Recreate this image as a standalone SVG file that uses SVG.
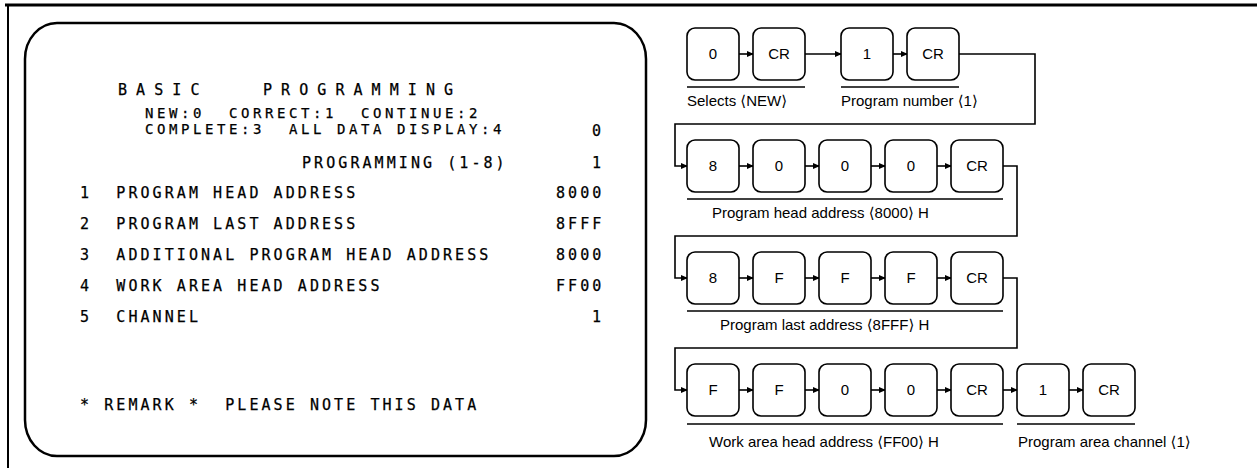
<svg xmlns="http://www.w3.org/2000/svg" width="1257" height="468" viewBox="0 0 1257 468">
<style>
.scr{font-family:"DejaVu Sans Mono","Liberation Mono",monospace;font-size:15px;letter-spacing:3.07px;fill:#000;stroke:#000;stroke-width:0.25;white-space:pre}
.sm{font-size:14px;letter-spacing:3.57px}
.box{fill:#fff;stroke:#000;stroke-width:1.6}
.k{font-family:"Liberation Sans","DejaVu Sans",sans-serif;font-size:15px;fill:#000;text-anchor:middle}
.lbl{font-family:"Liberation Sans","DejaVu Sans",sans-serif;font-size:15px;fill:#000}
.ln{fill:none;stroke:#000;stroke-width:1.6}
.ul{stroke:#000;stroke-width:1.4}
</style>
<defs>
<marker id="ah" markerWidth="7" markerHeight="7" refX="6" refY="3.5" orient="auto" markerUnits="userSpaceOnUse">
<path d="M0,0.5 L7,3.5 L0,6.5 Z" fill="#000"/>
</marker>
</defs>
<rect width="1257" height="468" fill="#fff"/>
<g id="frame">
<line x1="5" y1="5" x2="1257" y2="5" stroke="#000" stroke-width="3"/>
<line x1="8" y1="5" x2="8" y2="468" stroke="#000" stroke-width="2"/>
</g>
<g id="screen">
<rect x="25" y="23" width="621" height="433" rx="32" ry="36" fill="none" stroke="#000" stroke-width="2.5"/>
<text class="scr" x="118" y="95" style="letter-spacing:9.07px">BASIC</text>
<text class="scr" x="263" y="95" style="letter-spacing:9.07px">PROGRAMMING</text>
<text class="scr sm" x="145" y="118">NEW:0  CORRECT:1  CONTINUE:2</text>
<text class="scr sm" x="145" y="134">COMPLETE:3  ALL DATA DISPLAY:4</text>
<text class="scr" x="592" y="136">0</text>
<text class="scr" x="302" y="168">PROGRAMMING (1-8)</text>
<text class="scr" x="592" y="168">1</text>
<text class="scr" x="80" y="198">1  PROGRAM HEAD ADDRESS</text>
<text class="scr" x="556" y="198">8000</text>
<text class="scr" x="80" y="229">2  PROGRAM LAST ADDRESS</text>
<text class="scr" x="556" y="229">8FFF</text>
<text class="scr" x="80" y="260">3  ADDITIONAL PROGRAM HEAD ADDRESS</text>
<text class="scr" x="556" y="260">8000</text>
<text class="scr" x="80" y="291">4  WORK AREA HEAD ADDRESS</text>
<text class="scr" x="556" y="291">FF00</text>
<text class="scr" x="80" y="322">5  CHANNEL</text>
<text class="scr" x="592" y="322">1</text>
<text class="scr" x="80" y="410">* REMARK *  PLEASE NOTE THIS DATA</text>
</g>
<g id="connectors">
<line class="ln" x1="739" y1="54" x2="753" y2="54" marker-end="url(#ah)"/>
<line class="ln" x1="805" y1="54" x2="841" y2="54" marker-end="url(#ah)"/>
<line class="ln" x1="893" y1="54" x2="907" y2="54" marker-end="url(#ah)"/>
<polyline class="ln" points="959,54 1035,54 1035,124 675,124 675,166 687,166" marker-end="url(#ah)"/>
<line class="ln" x1="739" y1="166" x2="753" y2="166" marker-end="url(#ah)"/>
<line class="ln" x1="805" y1="166" x2="819" y2="166" marker-end="url(#ah)"/>
<line class="ln" x1="871" y1="166" x2="885" y2="166" marker-end="url(#ah)"/>
<line class="ln" x1="937" y1="166" x2="951" y2="166" marker-end="url(#ah)"/>
<polyline class="ln" points="1003,166 1017,166 1017,236 675,236 675,278 687,278" marker-end="url(#ah)"/>
<line class="ln" x1="739" y1="278" x2="753" y2="278" marker-end="url(#ah)"/>
<line class="ln" x1="805" y1="278" x2="819" y2="278" marker-end="url(#ah)"/>
<line class="ln" x1="871" y1="278" x2="885" y2="278" marker-end="url(#ah)"/>
<line class="ln" x1="937" y1="278" x2="951" y2="278" marker-end="url(#ah)"/>
<polyline class="ln" points="1003,278 1017,278 1017,348 675,348 675,390 687,390" marker-end="url(#ah)"/>
<line class="ln" x1="739" y1="390" x2="753" y2="390" marker-end="url(#ah)"/>
<line class="ln" x1="805" y1="390" x2="819" y2="390" marker-end="url(#ah)"/>
<line class="ln" x1="871" y1="390" x2="885" y2="390" marker-end="url(#ah)"/>
<line class="ln" x1="937" y1="390" x2="951" y2="390" marker-end="url(#ah)"/>
<line class="ln" x1="1003" y1="390" x2="1017" y2="390" marker-end="url(#ah)"/>
<line class="ln" x1="1069" y1="390" x2="1083" y2="390" marker-end="url(#ah)"/>
</g>
<g id="row1">
<g id="k1a"><rect class="box" x="687" y="28" width="52" height="52" rx="8"/><text class="k" x="713" y="59">0</text></g>
<g id="k1b"><rect class="box" x="753" y="28" width="52" height="52" rx="8"/><text class="k" x="779" y="59">CR</text></g>
<g id="k1c"><rect class="box" x="841" y="28" width="52" height="52" rx="8"/><text class="k" x="867" y="59">1</text></g>
<g id="k1d"><rect class="box" x="907" y="28" width="52" height="52" rx="8"/><text class="k" x="933" y="59">CR</text></g>
<line class="ul" x1="687" y1="87" x2="805" y2="87"/>
<line class="ul" x1="841" y1="87" x2="959" y2="87"/>
<text class="lbl" x="687" y="106">Selects ⟨NEW⟩</text>
<text class="lbl" x="841" y="106">Program number ⟨1⟩</text>
</g>
<g id="row2">
<g id="k2a"><rect class="box" x="687" y="140" width="52" height="52" rx="8"/><text class="k" x="713" y="171">8</text></g>
<g id="k2b"><rect class="box" x="753" y="140" width="52" height="52" rx="8"/><text class="k" x="779" y="171">0</text></g>
<g id="k2c"><rect class="box" x="819" y="140" width="52" height="52" rx="8"/><text class="k" x="845" y="171">0</text></g>
<g id="k2d"><rect class="box" x="885" y="140" width="52" height="52" rx="8"/><text class="k" x="911" y="171">0</text></g>
<g id="k2e"><rect class="box" x="951" y="140" width="52" height="52" rx="8"/><text class="k" x="977" y="171">CR</text></g>
<line class="ul" x1="687" y1="199" x2="1003" y2="199"/>
<text class="lbl" x="712" y="218">Program head address ⟨8000⟩ H</text>
</g>
<g id="row3">
<g id="k3a"><rect class="box" x="687" y="252" width="52" height="52" rx="8"/><text class="k" x="713" y="283">8</text></g>
<g id="k3b"><rect class="box" x="753" y="252" width="52" height="52" rx="8"/><text class="k" x="779" y="283">F</text></g>
<g id="k3c"><rect class="box" x="819" y="252" width="52" height="52" rx="8"/><text class="k" x="845" y="283">F</text></g>
<g id="k3d"><rect class="box" x="885" y="252" width="52" height="52" rx="8"/><text class="k" x="911" y="283">F</text></g>
<g id="k3e"><rect class="box" x="951" y="252" width="52" height="52" rx="8"/><text class="k" x="977" y="283">CR</text></g>
<line class="ul" x1="687" y1="311" x2="1003" y2="311"/>
<text class="lbl" x="720" y="330">Program last address ⟨8FFF⟩ H</text>
</g>
<g id="row4">
<g id="k4a"><rect class="box" x="687" y="364" width="52" height="52" rx="8"/><text class="k" x="713" y="395">F</text></g>
<g id="k4b"><rect class="box" x="753" y="364" width="52" height="52" rx="8"/><text class="k" x="779" y="395">F</text></g>
<g id="k4c"><rect class="box" x="819" y="364" width="52" height="52" rx="8"/><text class="k" x="845" y="395">0</text></g>
<g id="k4d"><rect class="box" x="885" y="364" width="52" height="52" rx="8"/><text class="k" x="911" y="395">0</text></g>
<g id="k4e"><rect class="box" x="951" y="364" width="52" height="52" rx="8"/><text class="k" x="977" y="395">CR</text></g>
<g id="k4f"><rect class="box" x="1017" y="364" width="52" height="52" rx="8"/><text class="k" x="1043" y="395">1</text></g>
<g id="k4g"><rect class="box" x="1083" y="364" width="52" height="52" rx="8"/><text class="k" x="1109" y="395">CR</text></g>
<line class="ul" x1="687" y1="424" x2="1003" y2="424"/>
<line class="ul" x1="1017" y1="424" x2="1135" y2="424"/>
<text class="lbl" x="709" y="447">Work area head address ⟨FF00⟩ H</text>
<text class="lbl" x="1018" y="447">Program area channel ⟨1⟩</text>
</g>
</svg>
